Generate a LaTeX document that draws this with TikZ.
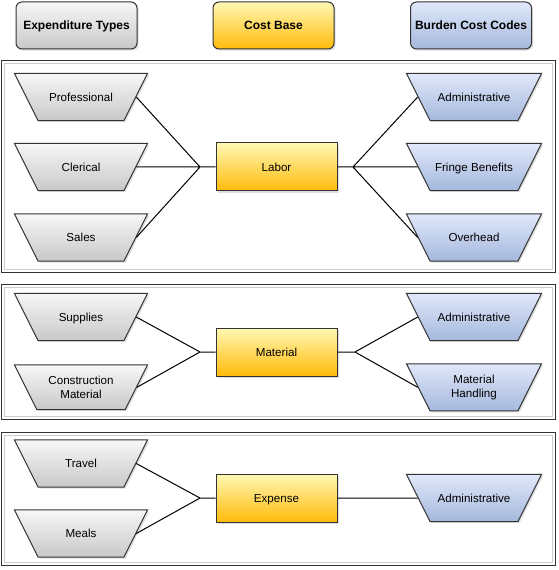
\documentclass[tikz,border=0pt]{standalone}
\usepackage{fontspec}
\setmainfont{Liberation Sans}
\usetikzlibrary{shapes.geometric,shadows}
\definecolor{grayTop}{HTML}{F7F7F7}
\definecolor{grayBot}{HTML}{C8C8C8}
\definecolor{yelTop}{HTML}{FFF8B4}
\definecolor{yelBot}{HTML}{FFBB0A}
\definecolor{bluTop}{HTML}{E0E8FA}
\definecolor{bluBot}{HTML}{A5B8DD}
\definecolor{lineDark}{HTML}{333333}

\begin{document}
\begin{tikzpicture}[x=0.75pt,y=0.75pt,yscale=-1,xscale=1,
    every node/.style={font=\fontsize{8.7}{10.5}\selectfont, align=center, inner sep=1pt},
    shade/.style={drop shadow={shadow xshift=1.2pt, shadow yshift=-1.2pt, opacity=0.25}},
    head/.style={shade, draw=lineDark, line width=0.75pt, rounded corners=4.5pt, minimum width=90.75pt, minimum height=35.25pt, text height=8.3pt, text depth=1.8pt, font=\bfseries\fontsize{9}{11}\selectfont},
    trap/.style={shade, trapezium, trapezium left angle=116.6, trapezium right angle=116.6, trapezium stretches body=true, text height=8pt, text depth=1.7pt, inner xsep=1pt, inner ysep=12.8pt, draw=lineDark, line width=0.75pt},
    twoline/.style={text height=, text depth=, inner ysep=8.3pt, yshift=-0.6pt},
    exptype/.style={trap, minimum width=99.75pt, top color=grayTop, bottom color=grayBot},
    burden/.style={trap, minimum width=101.25pt, top color=bluTop, bottom color=bluBot},
    costbase/.style={shade, draw=lineDark, line width=0.75pt, minimum width=90.75pt, minimum height=36pt, text height=8pt, text depth=1.7pt, top color=yelTop, bottom color=yelBot},
    link/.style={draw=black, line width=0.75pt}]
    \useasboundingbox (0,0) rectangle (559,570);

    %Shape: Panels
    \draw [draw=lineDark, line width=0.75pt] (1,61) rectangle (555,272);
    \draw [draw=black!20, line width=0.75pt] (4,64) rectangle (552,269);
    \draw [draw=lineDark, line width=0.75pt] (1,284) rectangle (555,419);
    \draw [draw=black!20, line width=0.75pt] (4,287) rectangle (552,416);
    \draw [draw=lineDark, line width=0.75pt] (1,432) rectangle (555,565);
    \draw [draw=black!20, line width=0.75pt] (4,435) rectangle (552,562);

    % Header Nodes
    \node [head, top color=grayTop, bottom color=grayBot] (hexp) at (76.5,25.5) {Expenditure Types};
    \node [head, top color=yelTop, bottom color=yelBot] (hcost) at (273.5,25.5) {Cost Base};
    \node [head, top color=bluTop, bottom color=bluBot] (hburden) at (471,25.5) {Burden Cost Codes};

    % Labor
    \node [exptype] (prof) at (81,97) {Professional};
    \node [exptype] (cler) at (81,167) {Clerical};
    \node [exptype] (sales) at (81,237.5) {Sales};
    \node [costbase] (labor) at (276.5,167) {Labor};
    \node [burden] (adm1) at (474,97) {Administrative};
    \node [burden] (fringe) at (474,167) {Fringe Benefits};
    \node [burden] (over) at (474,237.5) {Overhead};
    \coordinate (jl1) at (200,167);
    \coordinate (jr1) at (353,167);
    \draw [link] (prof.east) -- (jl1) (cler.east) -- (jl1) (sales.east) -- (jl1) (jl1) -- (labor.west);
    \draw [link] (labor.east) -- (jr1) (jr1) -- (adm1.west) (jr1) -- (fringe.west) (jr1) -- (over.west);

    % Material
    \node [exptype] (supp) at (81,317) {Supplies};
    \node [exptype, twoline] (cons) at (81,386.5) {Construction\\Material};
    \node [costbase] (mat) at (276.5,352) {Material};
    \node [burden] (adm2) at (474,317) {Administrative};
    \node [burden, twoline] (handl) at (474,386.5) {Material\\Handling};
    \coordinate (jl2) at (200,352);
    \coordinate (jr2) at (355,352);
    \draw [link] (supp.east) -- (jl2) (cons.east) -- (jl2) (jl2) -- (mat.west);
    \draw [link] (mat.east) -- (jr2) (jr2) -- (adm2.west) (jr2) -- (handl.west);

    % Expense
    \node [exptype] (travel) at (81,463.5) {Travel};
    \node [exptype] (meals) at (81,533.5) {Meals};
    \node [costbase] (expn) at (276.5,498) {Expense};
    \node [burden] (adm3) at (474,498) {Administrative};
    \coordinate (jl3) at (200,498);
    \draw [link] (travel.east) -- (jl3) (meals.east) -- (jl3) (jl3) -- (expn.west);
    \draw [link] (expn.east) -- (adm3.west);

\end{tikzpicture}
\end{document}
